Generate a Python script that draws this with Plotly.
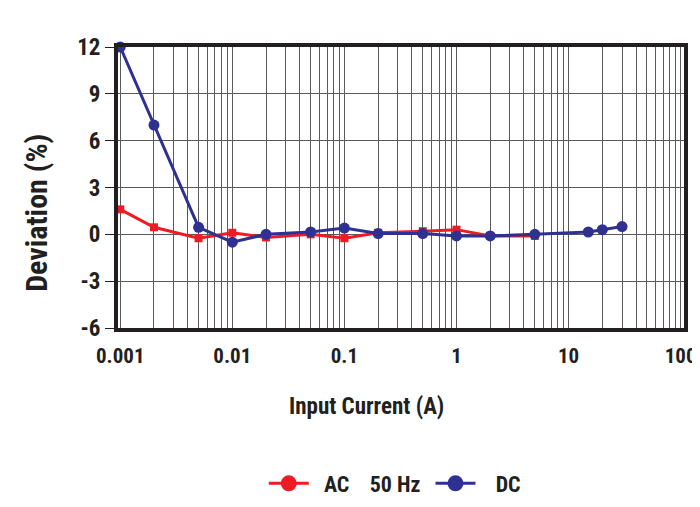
import plotly.graph_objects as go

# Data
dc_current = [0.001, 0.002, 0.005, 0.01, 0.02, 0.05, 0.1, 0.2, 0.5, 1, 2, 5, 15, 20, 30]
dc_deviation = [12.0, 7.0, 0.45, -0.5, 0.0, 0.15, 0.4, 0.05, 0.05, -0.1, -0.1, 0.0, 0.15, 0.3, 0.5]

ac_current = [0.001, 0.002, 0.005, 0.01, 0.02, 0.05, 0.1, 0.2, 0.5, 1, 2, 5]
ac_deviation = [1.6, 0.45, -0.25, 0.1, -0.2, 0.0, -0.25, 0.1, 0.2, 0.3, -0.1, -0.1]

x_tickvals = [0.001, 0.01, 0.1, 1, 10, 100]
x_ticktext = ["0.001", "0.01", "0.1", "1", "10", "100"]
y_tickvals = [12, 9, 6, 3, 0, -3, -6]
y_ticktext = ["12", "9", "6", "3", "0", "-3", "-6"]

series_names = ["\u00a0\u00a0AC\u00a0\u00a0\u00a0\u00a050 Hz\u00a0", "\u00a0\u00a0\u00a0DC"]
x_title = "Input Current (A)"
y_title = "Deviation (%)"

RED = "#ed1c24"
BLUE = "#2e3192"
INK = "#231f20"
GRID = "#58595b"
FONT = "Liberation Sans Narrow, Roboto Condensed, DejaVu Sans Condensed, Arial Narrow, sans-serif"

fig = go.Figure()

fig.add_trace(go.Scatter(
    x=ac_current, y=ac_deviation, mode="lines+markers",
    line=dict(color=RED, width=3),
    marker=dict(symbol="square", size=8, color=RED),
    showlegend=False, cliponaxis=False,
))
fig.add_trace(go.Scatter(
    x=dc_current, y=dc_deviation, mode="lines+markers",
    line=dict(color=BLUE, width=3),
    marker=dict(symbol="circle", size=11, color=BLUE),
    showlegend=False, cliponaxis=False,
))
# legend entries (circle markers, as in the reference legend)
for name, col in zip(series_names, [RED, BLUE]):
    fig.add_trace(go.Scatter(
        x=[None], y=[None], mode="lines+markers", name=name,
        line=dict(color=col, width=3),
        marker=dict(symbol="circle", size=16, color=col),
    ))

fig.update_layout(
    width=700, height=507,
    margin=dict(l=110, r=24, t=39, b=186),
    paper_bgcolor="white", plot_bgcolor="white",
    font=dict(family=FONT, color=INK, size=17),
    showlegend=True,
    legend=dict(
        orientation="h", x=0.489, xanchor="center", y=-0.548, yanchor="middle",
        font=dict(family=FONT, size=22, color=INK, weight="bold"),
        itemwidth=40, traceorder="normal",
    ),
    annotations=[
        dict(text=x_title, xref="paper", yref="paper", x=0.439, y=-0.28,
             xanchor="center", yanchor="middle", showarrow=False,
             font=dict(family=FONT, size=23, color=INK, weight="bold")),
        dict(text=y_title, xref="paper", yref="paper", x=-0.143, y=0.41,
             xanchor="center", yanchor="middle", showarrow=False, textangle=-90,
             font=dict(family=FONT, size=30, color=INK, weight="bold")),
    ],
)

fig.update_xaxes(
    type="log", range=[-3.02, 2.03],
    tickvals=x_tickvals, ticktext=x_ticktext,
    tickfont=dict(family=FONT, size=21, color=INK, weight="bold"),
    ticks="", ticklabelstandoff=6,
    showgrid=True, gridcolor=GRID, gridwidth=1,
    minor=dict(dtick="D1", showgrid=True, gridcolor=GRID, gridwidth=1, ticks=""),
    showline=True, linecolor=INK, linewidth=4, mirror=True,
    zeroline=False, automargin=False,
)
fig.update_yaxes(
    range=[-6, 12], tickvals=y_tickvals, ticktext=y_ticktext,
    tickfont=dict(family=FONT, size=23, color=INK, weight="bold"),
    ticks="outside", ticklen=9, tickwidth=1, tickcolor=INK,
    showgrid=True, gridcolor=GRID, gridwidth=1,
    zeroline=True, zerolinecolor=GRID, zerolinewidth=1,
    showline=True, linecolor=INK, linewidth=4, mirror=True,
    automargin=False,
)

fig.write_html("out.html", config={"displayModeBar": False})
